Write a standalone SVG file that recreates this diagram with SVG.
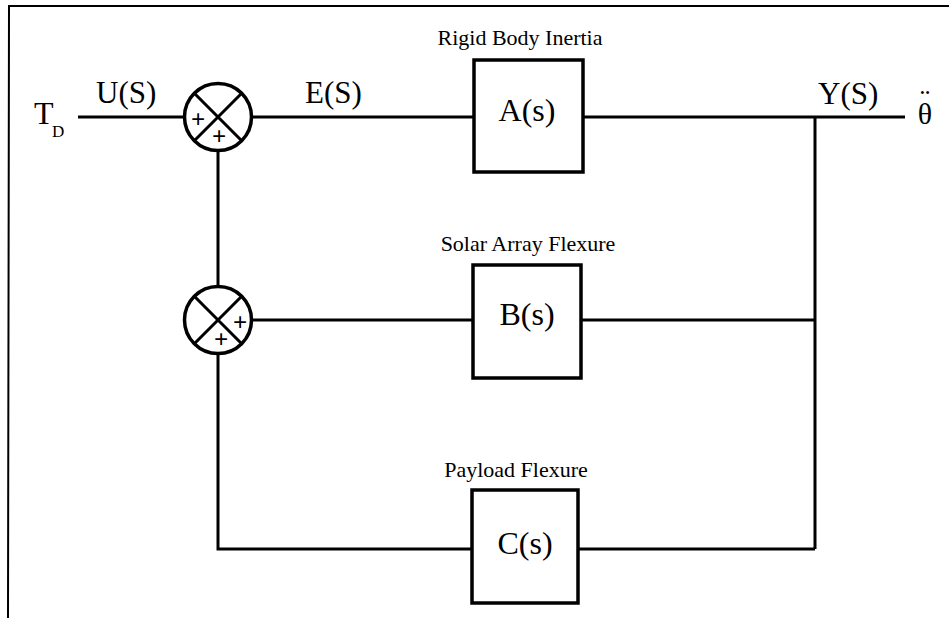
<svg xmlns="http://www.w3.org/2000/svg" width="949" height="618" viewBox="0 0 949 618">
<style>
text{font-family:"Liberation Serif","Times New Roman",serif;fill:#000}
.lbl{font-size:31px}
.cap{font-size:22px;text-anchor:middle}
.tf{font-size:32px;text-anchor:middle}
.w{stroke:#000;stroke-width:3;fill:none}
.box{stroke:#000;stroke-width:3.5;fill:#fff}
.sum{stroke:#000;stroke-width:3.5;fill:#fff}
.pl{font-size:25px;text-anchor:middle;font-weight:bold}
</style>
<rect width="949" height="618" fill="#fff"/>
<path d="M8,618 L9,6 L949,6" fill="none" stroke="#000" stroke-width="2"/>
<g id="connectors">
<path class="w" d="M78,117 L184,117"/>
<path class="w" d="M252,117 L473,117"/>
<path class="w" d="M583,117 L905,117"/>
<path class="w" d="M815,117 L815,549"/>
<path class="w" d="M218,151 L218,287"/>
<path class="w" d="M252,320 L473,320"/>
<path class="w" d="M581,320 L815,320"/>
<path class="w" d="M218,353 L218,549 L472,549"/>
<path class="w" d="M578,549 L815,549"/>
</g>
<g id="labels">
<text x="34" y="124" font-size="32">T<tspan x="52" y="137" font-size="17">D</tspan></text>
<text class="lbl" x="96" y="103">U(S)</text>
<text class="lbl" x="305" y="103">E(S)</text>
<text class="lbl" x="818" y="104">Y(S)</text>
<text x="925" y="124" font-size="30" text-anchor="middle">θ<tspan x="925" y="110">¨</tspan></text>
</g>
<g id="sum1">
<circle class="sum" cx="218" cy="117" r="33.5"/>
<path class="w" d="M194.3,93.3 L241.7,140.7 M241.7,93.3 L194.3,140.7"/>
<text class="pl" x="198" y="128">+</text>
<text class="pl" x="219" y="145">+</text>
</g>
<g id="sum2">
<circle class="sum" cx="218" cy="320" r="33.5"/>
<path class="w" d="M194.3,296.3 L241.7,343.7 M241.7,296.3 L194.3,343.7"/>
<text class="pl" x="240" y="331">+</text>
<text class="pl" x="221" y="348">+</text>
</g>
<g id="A">
<text class="cap" x="520" y="45">Rigid Body Inertia</text>
<rect class="box" x="474" y="60" width="109" height="112"/>
<text class="tf" x="527" y="121">A(s)</text>
</g>
<g id="B">
<text class="cap" x="528" y="251">Solar Array Flexure</text>
<rect class="box" x="473" y="265" width="108" height="113"/>
<text class="tf" x="527" y="325">B(s)</text>
</g>
<g id="C">
<text class="cap" x="516" y="477">Payload Flexure</text>
<rect class="box" x="472" y="490" width="106" height="113"/>
<text class="tf" x="525" y="554">C(s)</text>
</g>
</svg>
